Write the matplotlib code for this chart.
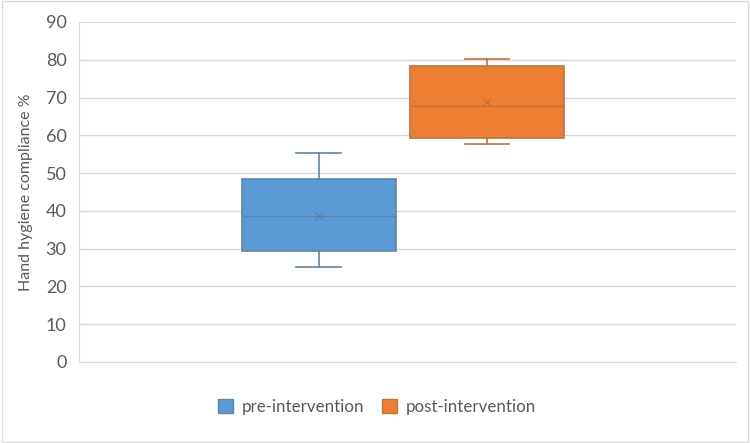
import matplotlib.pyplot as plt
from matplotlib.patches import Patch, Rectangle

plt.rcParams['font.family'] = ['Lato', 'DejaVu Sans']

groups = ['pre-intervention', 'post-intervention']
colors = ['#5B9BD5', '#ED7D31']
edge_colors = ['#5F84AA', '#C2733C']

# five-number summaries + mean
whislo = [25.1, 57.8]
q1 = [29.4, 59.4]
med = [38.7, 67.7]
q3 = [48.4, 78.4]
whishi = [55.2, 80.1]
means = [38.7, 68.7]

stats = []
for i, g in enumerate(groups):
    stats.append(dict(label=g, whislo=whislo[i], q1=q1[i], med=med[i],
                      q3=q3[i], whishi=whishi[i], mean=means[i], fliers=[]))

fig = plt.figure(figsize=(7.5, 4.43), dpi=100)
fig.patches.append(Rectangle((0.003, 0.003), 0.994, 0.994, transform=fig.transFigure,
                             fill=False, edgecolor='#D9D9D9', lw=1))
ax = fig.add_axes([79 / 750, (443 - 362) / 443, 657 / 750, 340 / 443])

positions = [0.365, 0.621]
for i, s in enumerate(stats):
    ec = edge_colors[i]
    ax.bxp([s], positions=[positions[i]], widths=0.234, patch_artist=True,
           showmeans=True, meanline=False,
           boxprops=dict(facecolor=colors[i], edgecolor=ec, lw=1.2),
           medianprops=dict(color=ec, lw=1.0),
           whiskerprops=dict(color=ec, lw=1.2),
           capprops=dict(color=ec, lw=1.2),
           capwidths=0.068,
           meanprops=dict(marker='x', markeredgecolor=ec, markersize=6, markeredgewidth=1.0),
           zorder=3)

ax.set_xlim(0, 1)
ax.set_ylim(0, 90)
ax.set_yticks(range(0, 91, 10))
ax.set_xticks([])
ax.grid(axis='y', color='#D9D9D9', lw=1, zorder=0)
ax.set_axisbelow(True)
for side in ['top', 'right']:
    ax.spines[side].set_visible(False)
ax.spines['left'].set_color('#D9D9D9')
ax.spines['bottom'].set_color('#D9D9D9')
ax.tick_params(axis='y', length=0, labelsize=13, labelcolor='#595959', pad=9)
ax.set_ylabel('Hand hygiene compliance %', fontsize=11.5, color='#595959', labelpad=9)

handles = [Patch(facecolor=colors[i], edgecolor=edge_colors[i], label=groups[i]) for i in range(2)]
fig.legend(handles=handles, loc='center', bbox_to_anchor=(377 / 750, 1 - 407 / 443), ncol=2,
           frameon=False, fontsize=12.2, labelcolor='#595959', handlelength=0.9,
           handleheight=0.9, columnspacing=1.0, handletextpad=0.55)

fig.savefig('out.png', dpi=100)
